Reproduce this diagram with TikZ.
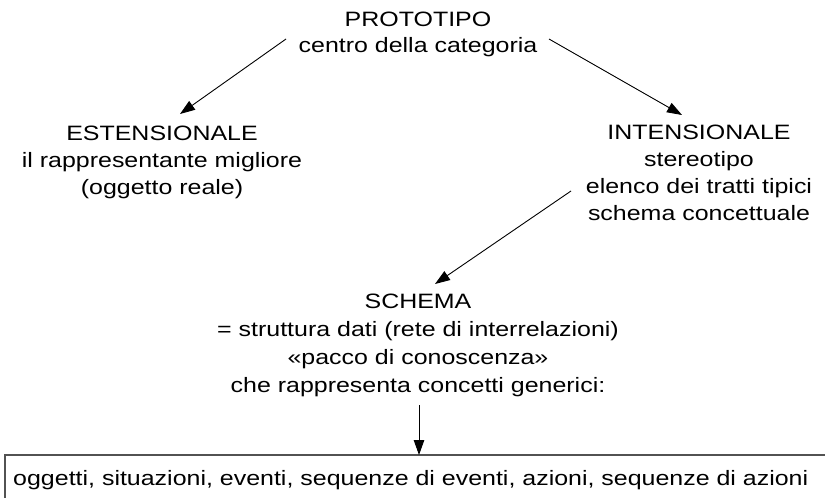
\documentclass[tikz,border=0pt]{standalone}
\usepackage{fontspec}
\setmainfont{Liberation Sans}
\usetikzlibrary{arrows.meta}
\begin{document}
\begin{tikzpicture}[x=1pt,y=-1pt,
  lbl/.style={align=center,anchor=north,inner sep=0pt,xscale=1.2,transform shape,
    font={\fontsize{20.8}{27}\selectfont}},
  arr/.style={line width=0.9pt,-{Triangle[length=15pt,width=10.5pt]}},
  boxline/.style={draw=black!68,line width=2.2pt}]
\useasboundingbox (0,0) rectangle (825,498);
\node[lbl,font={\fontsize{20.8}{26}\selectfont}] (proto) at (418,12.1) {PROTOTIPO\\centro della categoria};
\node[lbl] (est) at (162,126.1) {ESTENSIONALE\\il rappresentante migliore\\(oggetto reale)};
\node[lbl] (int) at (699,125.1) {INTENSIONALE\\stereotipo\\elenco dei tratti tipici\\schema concettuale};
\node[lbl,font={\fontsize{20.8}{28}\selectfont}] (schema) at (418,294.1) {SCHEMA\\= struttura dati (rete di interrelazioni)\\«pacco di conoscenza»\\che rappresenta concetti generici:};
\coordinate (a1s) at (286,39); \coordinate (a1e) at (180,114);
\coordinate (a2s) at (549,39); \coordinate (a2e) at (682,115);
\coordinate (a3s) at (571,191); \coordinate (a3e) at (435,284);
\coordinate (a4s) at (419,405); \coordinate (a4e) at (419,455);
\draw[boxline] (5,520) |- (860,455);
\node[anchor=base west,inner sep=0pt,xscale=1.2,transform shape,font={\fontsize{20.8}{27}\selectfont}] (list) at (13,485) {oggetti, situazioni, eventi, sequenze di eventi, azioni, sequenze di azioni};
\draw[arr] (a1s) -- (a1e);
\draw[arr] (a2s) -- (a2e);
\draw[arr] (a3s) -- (a3e);
\draw[arr] (a4s) -- (a4e);
\end{tikzpicture}
\end{document}
